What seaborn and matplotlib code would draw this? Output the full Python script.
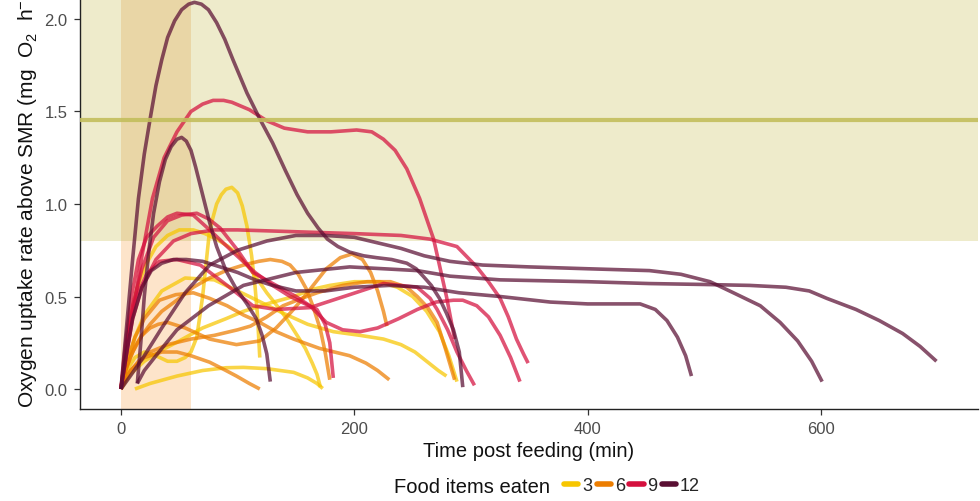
import numpy as np
import pandas as pd
import matplotlib
matplotlib.use("Agg")
import matplotlib.pyplot as plt
from matplotlib.lines import Line2D
import seaborn as sns

# ---- tick labels / levels ----
x_ticks = [0, 200, 400, 600]
y_ticks = [0.0, 0.5, 1.0, 1.5, 2.0]
food_levels = [3, 6, 9, 12]

# ---- reference values ----
aerobic_threshold = 0.8     # lower edge of shaded band
smr_line = 1.455            # horizontal reference line
feeding_window = (0, 60)    # minutes

# ---- individual SDA curves: time (min) and rate ----
# 12 food items
t_p1 = [0, 5, 10, 15, 20, 25, 30, 35, 40, 46, 52, 58, 63, 69, 75, 82, 89, 96, 102, 108, 119, 130, 141, 151, 160, 169, 177, 186, 196, 208, 219, 232, 245, 253, 259, 266, 273, 279, 285, 290, 293]
r_p1 = [0, 0.35, 0.70, 1.03, 1.27, 1.46, 1.64, 1.78, 1.90, 1.99, 2.05, 2.08, 2.09, 2.08, 2.05, 1.98, 1.89, 1.78, 1.69, 1.60, 1.46, 1.33, 1.18, 1.05, 0.95, 0.87, 0.81, 0.77, 0.74, 0.72, 0.71, 0.70, 0.68, 0.65, 0.61, 0.56, 0.49, 0.41, 0.32, 0.20, 0.01]
t_p2 = [14, 17, 20, 24, 28, 33, 38, 43, 48, 52, 56, 60, 64, 70, 76, 82, 90, 98, 108, 116, 121, 125, 128]
r_p2 = [0.03, 0.25, 0.5, 0.75, 0.95, 1.12, 1.24, 1.31, 1.35, 1.36, 1.34, 1.29, 1.2, 1.05, 0.9, 0.77, 0.64, 0.55, 0.46, 0.38, 0.29, 0.19, 0.04]
t_p3 = [0, 8, 19, 35, 55, 76, 100, 125, 150, 175, 200, 220, 240, 260, 282, 310, 350, 400, 453, 480, 505, 525, 548, 565, 580, 592, 601]
r_p3 = [0, 0.07, 0.17, 0.33, 0.52, 0.67, 0.75, 0.8, 0.83, 0.83, 0.82, 0.79, 0.76, 0.72, 0.69, 0.67, 0.66, 0.65, 0.64, 0.62, 0.58, 0.52, 0.45, 0.36, 0.26, 0.15, 0.04]
t_p4 = [14, 20, 30, 48, 75, 105, 150, 196, 254, 282, 325, 400, 453, 500, 539, 570, 590, 605, 630, 650, 670, 685, 699]
r_p4 = [0.03, 0.1, 0.18, 0.32, 0.45, 0.56, 0.63, 0.66, 0.64, 0.61, 0.59, 0.58, 0.57, 0.565, 0.56, 0.55, 0.53, 0.49, 0.43, 0.37, 0.3, 0.23, 0.15]
t_p5 = [0, 5, 10, 18, 26, 35, 45, 56, 70, 85, 100, 115, 130, 150, 175, 200, 230, 260, 290, 325, 368, 400, 445, 458, 468, 477, 484, 489]
r_p5 = [0, 0.2, 0.38, 0.55, 0.64, 0.68, 0.70, 0.70, 0.69, 0.66, 0.63, 0.59, 0.56, 0.53, 0.53, 0.55, 0.56, 0.55, 0.52, 0.5, 0.47, 0.46, 0.46, 0.43, 0.37, 0.28, 0.18, 0.07]

# 9 food items
t_r1 = [0, 5, 10, 18, 27, 37, 48, 60, 70, 79, 88, 95, 110, 125, 140, 160, 180, 202, 215, 225, 235, 245, 256, 268, 279, 286]
r_r1 = [0, 0.2, 0.4, 0.72, 1.03, 1.25, 1.39, 1.5, 1.54, 1.56, 1.56, 1.55, 1.51, 1.45, 1.41, 1.39, 1.39, 1.40, 1.39, 1.35, 1.29, 1.19, 1.03, 0.81, 0.5, 0.27]
t_r2 = [0, 5, 10, 18, 30, 45, 60, 80, 100, 150, 200, 240, 265, 288, 305, 315, 325, 332, 339, 345, 349]
r_r2 = [0, 0.2, 0.38, 0.55, 0.7, 0.8, 0.84, 0.86, 0.86, 0.85, 0.84, 0.83, 0.81, 0.77, 0.66, 0.58, 0.49, 0.39, 0.27, 0.19, 0.14]
t_r3 = [0, 5, 10, 18, 28, 40, 52, 65, 75, 85, 100, 113, 133, 150, 162, 176, 190, 205, 220, 238, 254, 270, 285, 293, 305, 315, 325, 334, 342]
r_r3 = [0, 0.25, 0.45, 0.65, 0.82, 0.91, 0.94, 0.95, 0.92, 0.87, 0.75, 0.63, 0.56, 0.50, 0.45, 0.36, 0.32, 0.31, 0.33, 0.38, 0.43, 0.47, 0.48, 0.48, 0.45, 0.39, 0.29, 0.17, 0.04]
t_r4 = [0, 4, 9, 15, 22, 31, 40, 48, 62, 76, 96, 115, 130, 145, 158, 168, 175, 179, 182]
r_r4 = [0, 0.25, 0.5, 0.7, 0.82, 0.88, 0.93, 0.95, 0.94, 0.86, 0.74, 0.63, 0.56, 0.5, 0.46, 0.43, 0.35, 0.25, 0.06]
t_r5 = [0, 5, 12, 22, 33, 48, 68, 91, 113, 133, 162, 196, 225, 254, 265, 271, 280, 288, 296, 303]
r_r5 = [0, 0.25, 0.48, 0.62, 0.69, 0.70, 0.67, 0.56, 0.45, 0.43, 0.44, 0.51, 0.57, 0.55, 0.49, 0.43, 0.32, 0.2, 0.1, 0.02]

# 6 food items
t_o1 = [0, 8, 20, 35, 48, 60, 76, 90, 99, 110, 119]
r_o1 = [0, 0.1, 0.17, 0.2, 0.2, 0.18, 0.145, 0.1, 0.07, 0.03, 0.0]
t_o2 = [0, 4, 8, 13, 18, 25, 32, 40, 55, 76, 99, 119, 133, 145, 156, 166, 176, 188, 198, 207, 214, 220, 225, 228]
r_o2 = [0, 0.1, 0.17, 0.24, 0.29, 0.33, 0.35, 0.36, 0.33, 0.27, 0.24, 0.26, 0.33, 0.41, 0.49, 0.57, 0.65, 0.71, 0.73, 0.70, 0.63, 0.53, 0.42, 0.34]
t_o3 = [0, 5, 10, 18, 25, 35, 50, 62, 76, 90, 105, 118, 128, 138, 145, 152, 159, 165, 171, 175, 179]
r_o3 = [0, 0.12, 0.2, 0.29, 0.35, 0.42, 0.49, 0.55, 0.6, 0.64, 0.67, 0.69, 0.70, 0.69, 0.67, 0.62, 0.54, 0.44, 0.32, 0.2, 0.05]
t_o4 = [0, 5, 12, 20, 33, 47, 62, 76, 91, 105, 119, 133, 148, 170, 196, 210, 220, 230]
r_o4 = [0, 0.15, 0.28, 0.38, 0.48, 0.51, 0.52, 0.49, 0.45, 0.4, 0.36, 0.31, 0.27, 0.22, 0.18, 0.14, 0.1, 0.05]
t_o5 = [0, 6, 15, 25, 40, 60, 80, 100, 111, 125, 139, 155, 168, 190, 211, 231, 245, 254, 263, 271, 278, 286]
r_o5 = [0, 0.08, 0.15, 0.2, 0.24, 0.27, 0.29, 0.32, 0.34, 0.39, 0.45, 0.49, 0.52, 0.56, 0.58, 0.58, 0.55, 0.5, 0.44, 0.36, 0.22, 0.05]

# 3 food items
t_y1 = [12, 25, 48, 70, 90, 105, 125, 148, 160, 168, 173]
r_y1 = [0, 0.03, 0.07, 0.1, 0.115, 0.117, 0.11, 0.09, 0.06, 0.03, 0.003]
t_y2 = [0, 5, 12, 20, 30, 40, 48, 55, 60, 65, 70, 76, 82, 86, 90, 95, 100, 104, 108, 112, 115, 117, 119]
r_y2 = [0, 0.1, 0.17, 0.2, 0.18, 0.15, 0.15, 0.17, 0.2, 0.28, 0.5, 0.86, 1.0, 1.05, 1.08, 1.09, 1.06, 0.99, 0.88, 0.72, 0.55, 0.4, 0.17]
t_y3 = [0, 4, 8, 14, 22, 30, 40, 50, 62, 72, 82, 92, 100, 113, 125, 135, 142, 150, 158, 164, 168, 171]
r_y3 = [0, 0.2, 0.38, 0.55, 0.68, 0.77, 0.83, 0.86, 0.86, 0.84, 0.81, 0.77, 0.73, 0.63, 0.52, 0.44, 0.38, 0.3, 0.22, 0.14, 0.08, 0.01]
t_y4 = [0, 5, 12, 20, 35, 55, 80, 110, 139, 160, 182, 205, 225, 240, 252, 262, 272, 279]
r_y4 = [0, 0.12, 0.28, 0.4, 0.53, 0.6, 0.59, 0.5, 0.41, 0.35, 0.31, 0.29, 0.27, 0.24, 0.2, 0.15, 0.1, 0.07]
t_y5 = [0, 8, 20, 35, 50, 70, 90, 105, 125, 148, 165, 179, 200, 222, 237, 250, 262, 273, 281, 288]
r_y5 = [0, 0.08, 0.15, 0.21, 0.26, 0.33, 0.38, 0.42, 0.46, 0.5, 0.54, 0.56, 0.58, 0.58, 0.55, 0.5, 0.42, 0.31, 0.18, 0.04]

curves = [
    (3, t_y1, r_y1), (3, t_y2, r_y2), (3, t_y3, r_y3), (3, t_y4, r_y4), (3, t_y5, r_y5),
    (6, t_o1, r_o1), (6, t_o2, r_o2), (6, t_o3, r_o3), (6, t_o4, r_o4), (6, t_o5, r_o5),
    (9, t_r1, r_r1), (9, t_r2, r_r2), (9, t_r3, r_r3), (9, t_r4, r_r4), (9, t_r5, r_r5),
    (12, t_p1, r_p1), (12, t_p2, r_p2), (12, t_p3, r_p3), (12, t_p4, r_p4), (12, t_p5, r_p5),
]

frames = []
for i, (items, t, r) in enumerate(curves):
    frames.append(pd.DataFrame({"time": t, "rate": r, "fish": i, "items": items}))
df = pd.concat(frames, ignore_index=True)

palette = {3: "#F7C600", 6: "#EC7D00", 9: "#D4103E", 12: "#5A0F33"}

sns.set_theme(style="white")
plt.rcParams["font.family"] = ["Liberation Sans", "DejaVu Sans"]
plt.rcParams["mathtext.fontset"] = "custom"
plt.rcParams["mathtext.rm"] = "Liberation Sans"
plt.rcParams["mathtext.it"] = "Liberation Sans:italic"

fig = plt.figure(figsize=(9.8, 5.02), dpi=100)
ax = fig.add_axes([80 / 980, 92 / 502, 898 / 980, 410 / 502])
xlim = (-35.1, 734.6)
ylim = (-0.108, 2.108)
ax.set_xlim(*xlim)
ax.set_ylim(*ylim)

# shaded background regions
ax.axhspan(aerobic_threshold, ylim[1], color="#EEEBCB", lw=0, zorder=0)
ax.fill_between(feeding_window, ylim[0], aerobic_threshold, color="#FDE4CA", lw=0, zorder=0.5)
ax.fill_between(feeding_window, aerobic_threshold, ylim[1], color="#E9D6A6", lw=0, zorder=0.5)

sns.lineplot(data=df, x="time", y="rate", hue="items", units="fish", estimator=None,
             sort=False, palette=palette, linewidth=2.6, alpha=0.72, legend=False,
             ax=ax, zorder=2)
for ln in ax.get_lines():
    ln.set_solid_joinstyle("round")
    ln.set_solid_capstyle("butt")

ax.axhline(smr_line, color="#C3BE5C", lw=3.0, alpha=0.9, zorder=3)

ax.set_xticks(x_ticks)
ax.set_yticks(y_ticks)
ax.set_yticklabels([f"{v:.1f}" for v in y_ticks])
ax.tick_params(axis="both", which="both", length=4, width=0.9, color="#333333",
               labelsize=12, labelcolor="#4D4D4D", pad=5, direction="out")
ax.tick_params(left=True, bottom=True)
for side in ["top", "right"]:
    ax.spines[side].set_visible(False)
for side in ["left", "bottom"]:
    ax.spines[side].set_color("#222222")
    ax.spines[side].set_linewidth(1.0)
ax.set_xlabel("")
ax.set_ylabel("")
ax.grid(False)

fig.text(529 / 980, (502 - 452) / 502, "Time post feeding (min)", ha="center", va="center",
         fontsize=14.5, color="#111111")
fig.text(27 / 980, (502 - 408) / 502,
         r"Oxygen uptake rate above SMR (mg  O$_2$  h$^{-1}$)",
         rotation=90, ha="center", va="bottom", fontsize=15, color="#111111")

# legend
fig.text(550 / 980, (502 - 488) / 502, "Food items eaten", ha="right", va="center",
         fontsize=14.5, color="#111111")
handles = [Line2D([0], [0], color=palette[k], lw=4) for k in food_levels]
fig.legend(handles, [str(k) for k in food_levels], loc="center left",
           bbox_to_anchor=(555 / 980, (502 - 487) / 502), ncol=4, frameon=False,
           handlelength=0.8, handletextpad=0.2, columnspacing=0.25, borderpad=0,
           fontsize=13)

fig.savefig("out.png", dpi=100)
